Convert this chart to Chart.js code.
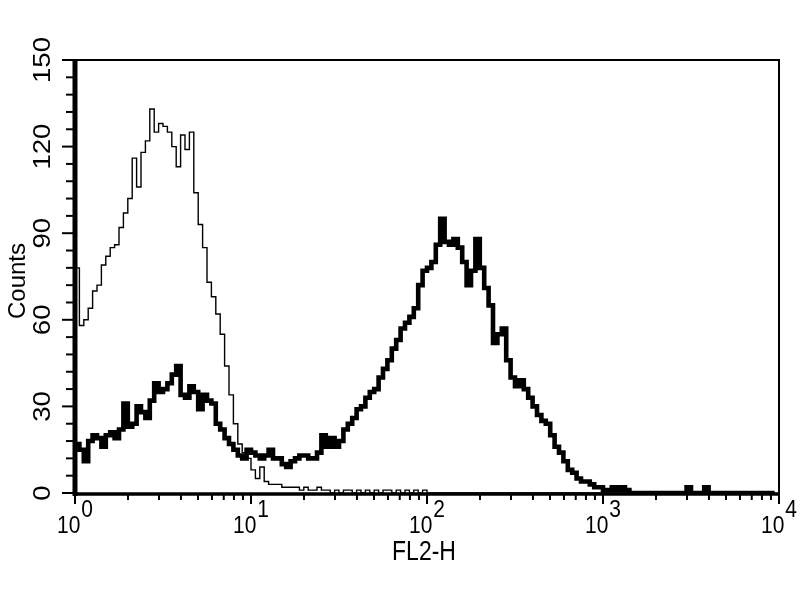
<!DOCTYPE html>
<html>
<head>
<meta charset="utf-8">
<script src="https://cdn.jsdelivr.net/npm/chart.js@4.4.1/dist/chart.umd.min.js"></script>
<style>
  html, body { margin: 0; padding: 0; background: #fff; }
  #wrap { width: 800px; height: 600px; }
</style>
</head>
<body>
<div id="wrap"><canvas id="c" width="800" height="600"></canvas></div>
<script>
// ---- data (histogram channels, 40 channels per decade, 10^0 .. 10^4) ----
const channelsPerDecade = 40;
const decades = [0, 1, 2, 3, 4];
const xTickExponents = [0, 1, 2, 3, 4];
const xMinorMultipliers = [2, 3, 4, 5, 6, 7, 8, 9];
const yTickLabels = [0, 30, 60, 90, 120, 150];
const yMinorStep = 6;
const xTitle = 'FL2-H';
const yTitle = 'Counts';

// control (thin line)
const controlCounts = [
  78, 58, 60, 64, 70, 72, 79, 82, 85, 86,
  92, 97, 102, 116, 106, 118, 122, 133, 125, 128,
  127, 125, 120, 113, 124, 119, 125, 104, 93, 85,
  73, 68, 62, 55, 44, 34, 24, 17, 14, 12,
  8, 5, 9, 4, 3, 3, 3, 2, 2, 2,
  2, 1, 2, 1, 1, 2, 1, 1, 0, 1,
  0, 1, 1, 0, 1, 0, 1, 0, 1, 0,
  1, 1, 0, 1, 0, 1, 0, 1, 0, 1,
  0, 0, 0, 0, 0, 0, 0, 0, 0, 0,
  0, 0, 0, 0, 0, 0, 0, 0, 0, 0,
  0, 0, 0, 0, 0, 0, 0, 0, 0, 0,
  0, 0, 0, 0, 0, 0, 0, 0, 0, 0,
  0, 0, 0, 0, 0, 0, 0, 0, 0, 0,
  0, 0, 0, 0, 0, 0, 0, 0, 0, 0,
  0, 0, 0, 0, 0, 0, 0, 0, 0, 0,
  0, 0, 0, 0, 0, 0, 0, 0, 0, 0
];

// stained sample (thick line)
const stainedCounts = [
  17, 15, 11, 18, 20, 19, 16, 20, 21, 19,
  22, 31, 23, 24, 30, 28, 26, 32, 38, 35,
  36, 38, 41, 44, 34, 33, 37, 35, 29, 34,
  32, 31, 24, 22, 19, 17, 15, 13, 12, 15,
  14, 13, 12, 13, 15, 12, 12, 10, 9, 11,
  12, 13, 13, 12, 12, 14, 20, 16, 19, 16,
  18, 22, 24, 26, 29, 30, 33, 35, 36, 40,
  43, 46, 50, 53, 57, 59, 61, 64, 72, 77,
  78, 80, 86, 95, 87, 86, 88, 85, 80, 72,
  77, 88, 78, 71, 65, 52, 55, 57, 46, 40,
  37, 39, 36, 33, 30, 27, 25, 24, 20, 16,
  14, 11, 8, 7, 5, 4, 4, 3, 2, 2,
  1, 1, 2, 1, 2, 1, 0, 0, 0, 0,
  0, 0, 0, 0, 0, 0, 0, 0, 0, 2,
  0, 0, 0, 2, 0, 0, 0, 0, 0, 0,
  0, 0, 0, 0, 0, 0, 0, 0, 0, 0
];

// channel left edges on the fluorescence scale
const channelEdges = controlCounts.map((_, i) => Math.pow(10, i / channelsPerDecade));
const toPoints = arr => arr.map((v, i) => ({ x: channelEdges[i], y: v }));

const FONT = '"Liberation Sans", Arial, Helvetica, sans-serif';

const fcsAxes = {
  id: 'fcsAxes',
  afterDatasetsDraw(chart) {
    const { ctx, chartArea: a, scales: { x, y } } = chart;
    ctx.save();
    ctx.strokeStyle = '#000';
    ctx.fillStyle = '#000';
    ctx.lineCap = 'butt';

    // top & right frame
    ctx.lineWidth = 2;
    ctx.beginPath();
    ctx.moveTo(a.left, a.top);
    ctx.lineTo(a.right, a.top);
    ctx.lineTo(a.right, a.bottom);
    ctx.stroke();

    // bottom axis
    ctx.lineWidth = 3.5;
    ctx.beginPath();
    ctx.moveTo(a.left, a.bottom + 1);
    ctx.lineTo(a.right + 1, a.bottom + 1);
    ctx.stroke();

    // left axis (thick)
    ctx.lineWidth = 5;
    ctx.beginPath();
    ctx.moveTo(a.left, a.top - 1);
    ctx.lineTo(a.left, a.bottom + 3);
    ctx.stroke();

    // y ticks
    ctx.lineWidth = 2;
    const yMax = yTickLabels[yTickLabels.length - 1];
    for (let v = 0; v <= yMax; v += yMinorStep) {
      const py = y.getPixelForValue(v);
      const major = yTickLabels.includes(v);
      ctx.beginPath();
      ctx.moveTo(major ? a.left - 13 : a.left - 9, py);
      ctx.lineTo(a.left, py);
      ctx.stroke();
    }

    // x ticks
    decades.forEach(d => {
      const base = Math.pow(10, d);
      const px = x.getPixelForValue(base);
      ctx.beginPath();
      ctx.moveTo(px, a.bottom);
      ctx.lineTo(px, a.bottom + 11);
      ctx.stroke();
      if (d < decades[decades.length - 1]) {
        xMinorMultipliers.forEach(m => {
          const pm = x.getPixelForValue(m * base);
          ctx.beginPath();
          ctx.moveTo(pm, a.bottom);
          ctx.lineTo(pm, a.bottom + 7);
          ctx.stroke();
        });
      }
    });

    // y tick labels (rotated)
    yTickLabels.forEach(v => {
      const py = y.getPixelForValue(v);
      ctx.save();
      ctx.translate(50, py);
      ctx.rotate(-Math.PI / 2);
      ctx.scale(1.2, 1);
      ctx.font = '23px ' + FONT;
      ctx.textAlign = 'center';
      ctx.textBaseline = 'alphabetic';
      ctx.fillText(String(v), 0, 0);
      ctx.restore();
    });

    // x tick labels 10^n
    xTickExponents.forEach(e => {
      const px = x.getPixelForValue(Math.pow(10, e));
      ctx.save();
      ctx.font = '21px ' + FONT;
      ctx.textBaseline = 'alphabetic';
      ctx.textAlign = 'left';
      const wb = ctx.measureText('10').width;
      const we = ctx.measureText(String(e)).width;
      const start = px - (wb + we + 1) / 2;
      ctx.save();
      ctx.translate(start, 533);
      ctx.scale(1, 1.12);
      ctx.fillText('10', 0, 0);
      ctx.restore();
      ctx.save();
      ctx.translate(start + wb + 1, 517);
      ctx.scale(1, 1.12);
      ctx.fillText(String(e), 0, 0);
      ctx.restore();
      ctx.restore();
    });

    // axis titles
    ctx.save();
    ctx.translate((a.left + a.right) / 2 - 3, 560);
    ctx.scale(1, 1.2);
    ctx.font = '23px ' + FONT;
    ctx.textAlign = 'center';
    ctx.textBaseline = 'alphabetic';
    ctx.fillText(xTitle, 0, 0);
    ctx.restore();

    ctx.save();
    ctx.translate(25, 281);
    ctx.rotate(-Math.PI / 2);
    ctx.font = '24px ' + FONT;
    ctx.textAlign = 'center';
    ctx.textBaseline = 'alphabetic';
    ctx.fillText(yTitle, 0, 0);
    ctx.restore();

    ctx.restore();
  }
};

new Chart(document.getElementById('c'), {
  type: 'line',
  data: {
    datasets: [
      {
        label: 'Control',
        data: toPoints(controlCounts),
        borderColor: '#000',
        borderWidth: 1.4,
        stepped: 'before',
        pointRadius: 0,
        fill: false
      },
      {
        label: 'Stained',
        data: toPoints(stainedCounts),
        borderColor: '#000',
        borderWidth: 4.6,
        stepped: 'before',
        pointRadius: 0,
        fill: false
      }
    ]
  },
  options: {
    responsive: false,
    animation: false,
    devicePixelRatio: 1,
    layout: { padding: { left: 75, top: 60, right: 21, bottom: 107 } },
    plugins: { legend: { display: false }, tooltip: { enabled: false } },
    scales: {
      x: { type: 'logarithmic', min: 1, max: 10000, display: false },
      y: { type: 'linear', min: 0, max: 150, display: false }
    }
  },
  plugins: [fcsAxes]
});
</script>
</body>
</html>
